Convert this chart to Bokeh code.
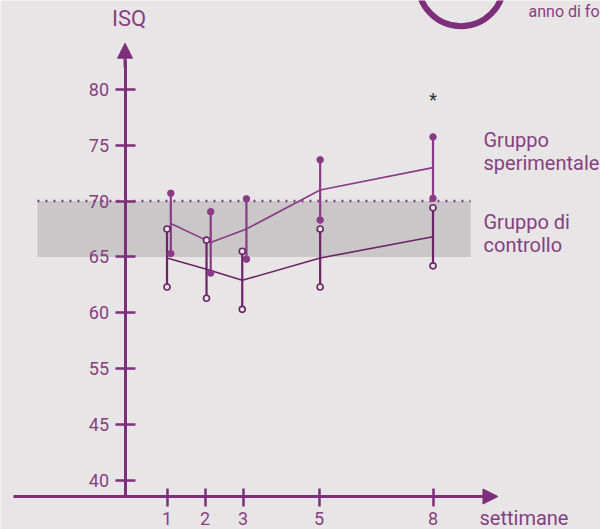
from bokeh.plotting import figure
from bokeh.models import Range1d, LinearAxis, FixedTicker, Label, Arrow, NormalHead
from bokeh.embed import file_html
from bokeh.resources import INLINE

# --- data -----------------------------------------------------------------
weeks = [1, 2, 3, 5, 8]
week_labels = ["1", "2", "3", "5", "8"]

isq_ticks = [80, 75, 70, 65, 60, 55, 50, 45]
isq_tick_labels = ["80", "75", "70", "65", "60", "55", "45", "40"]

# Gruppo sperimentale: mean ISQ and standard deviation per week
sper_mean = [68.0, 66.3, 67.5, 71.0, 73.0]
sper_sd = [2.7, 2.75, 2.7, 2.7, 2.75]

# Gruppo di controllo: mean ISQ and standard deviation per week
ctrl_mean = [64.9, 63.9, 62.9, 64.9, 66.8]
ctrl_sd = [2.6, 2.6, 2.6, 2.6, 2.6]

# reference stability band
ref_low, ref_high = 65, 70

# --- layout / style -------------------------------------------------------
# small horizontal nudges so the two groups' bars don't overlap
sper_shift = [0.10, 0.15, 0.09, 0.03, 0.0]
ctrl_shift = [0.0, 0.04, -0.02, 0.03, 0.0]

BG = "#E7E5E6"
BAND = "#C9C7C8"
AXIS = "#7E2F7B"
TEXT = "#87407F"
SPER = "#8B3A88"
CTRL = "#6C2367"
FONT = "Roboto"

sper_x = [w + s for w, s in zip(weeks, sper_shift)]
ctrl_x = [w + s for w, s in zip(weeks, ctrl_shift)]

p = figure(
    width=600, height=529,
    x_range=Range1d(-3.382, 12.408), y_range=Range1d(40.573, 87.975),
    output_backend="svg", toolbar_location=None,
    x_axis_location=None, y_axis_location=None, min_border=0,
)
p.background_fill_color = BG
p.border_fill_color = BG
p.outline_line_color = None
p.xgrid.visible = False
p.ygrid.visible = False

# reference band and its dotted upper limit
p.quad(left=-2.41, right=8.99, bottom=ref_low, top=ref_high,
       fill_color=BAND, line_color=None)
p.segment(x0=-2.41, x1=8.99, y0=ref_high, y1=ref_high,
          line_color=SPER, line_width=2.5, line_dash="2 6")

# mean lines
p.line(sper_x, sper_mean, line_color=SPER, line_width=1.6)
p.line(ctrl_x, ctrl_mean, line_color=CTRL, line_width=1.6)

# error bars (mean ± SD)
sper_lo = [m - s for m, s in zip(sper_mean, sper_sd)]
sper_hi = [m + s for m, s in zip(sper_mean, sper_sd)]
ctrl_lo = [m - s for m, s in zip(ctrl_mean, ctrl_sd)]
ctrl_hi = [m + s for m, s in zip(ctrl_mean, ctrl_sd)]

p.segment(x0=ctrl_x, x1=ctrl_x, y0=ctrl_lo, y1=ctrl_hi, line_color=CTRL, line_width=2.2)
p.segment(x0=sper_x, x1=sper_x, y0=sper_lo, y1=sper_hi, line_color=SPER, line_width=2.2)

p.scatter(ctrl_x + ctrl_x, ctrl_lo + ctrl_hi, size=6, fill_color=BG,
          line_color=CTRL, line_width=1.6)
p.scatter(sper_x + sper_x, sper_lo + sper_hi, size=6.5, fill_color=SPER,
          line_color=SPER)

# decorative ring (top right)
p.circle(x=[8.737], y=[89.5], radius=42.8, radius_units="screen",
         fill_color=None, line_color=AXIS, line_width=6)

# axes
yaxis = LinearAxis(
    fixed_location=-0.105, bounds=(43.53, 82.6),
    ticker=FixedTicker(ticks=isq_ticks, minor_ticks=[]),
    major_label_overrides={t: l for t, l in zip(isq_ticks, isq_tick_labels)},
    axis_line_color=AXIS, axis_line_width=3,
    major_tick_line_color=AXIS, major_tick_line_width=2.7,
    major_tick_in=10, major_tick_out=10,
    minor_tick_line_color=None,
    major_label_text_color=TEXT, major_label_text_font=FONT,
    major_label_text_font_size="18px", major_label_standoff=6,
)
p.add_layout(yaxis, "left")

xaxis = LinearAxis(
    fixed_location=43.53, bounds=(-3.04, 9.4),
    ticker=FixedTicker(ticks=weeks, minor_ticks=[]),
    major_label_overrides={w: l for w, l in zip(weeks, week_labels)},
    axis_line_color=AXIS, axis_line_width=3,
    major_tick_line_color=AXIS, major_tick_line_width=2.5,
    major_tick_in=8, major_tick_out=10,
    minor_tick_line_color=None,
    major_label_text_color=TEXT, major_label_text_font=FONT,
    major_label_text_font_size="18px", major_label_standoff=5,
)
p.add_layout(xaxis, "below")

p.add_layout(Arrow(end=NormalHead(size=15, fill_color=AXIS, line_color=AXIS),
                   x_start=9.0, y_start=43.53, x_end=9.71, y_end=43.53,
                   line_color=AXIS, line_width=3))
p.add_layout(Arrow(end=NormalHead(size=15, fill_color=AXIS, line_color=AXIS),
                   x_start=-0.105, y_start=82.0, x_end=-0.105, y_end=84.15,
                   line_color=AXIS, line_width=3))

# texts (y = baseline position from the top edge)
def label(text, x, y, size, color=TEXT, align="left"):
    p.add_layout(Label(x=x, y=529 - y, x_units="screen", y_units="screen",
                       text=text, text_font=FONT, text_font_size=f"{size}px",
                       text_color=color, text_align=align,
                       text_baseline="alphabetic"))

label("ISQ", 128.5, 18, 22, align="center")
label("settimane", 479, 517, 20)
label("Gruppo", 483, 139, 20)
label("sperimentale", 483, 162, 20)
label("Gruppo di", 483, 221, 20)
label("controllo", 483, 244, 20)
label("anno di follow-up", 528, 11, 16)

p.add_layout(Label(x=8, y=80 - (99.5 - 89) / 11.16, text="*",
                   text_font=FONT, text_font_size="18px", text_color="#333333",
                   text_align="center", text_baseline="alphabetic"))

open("out.html", "w").write(file_html(p, INLINE))
